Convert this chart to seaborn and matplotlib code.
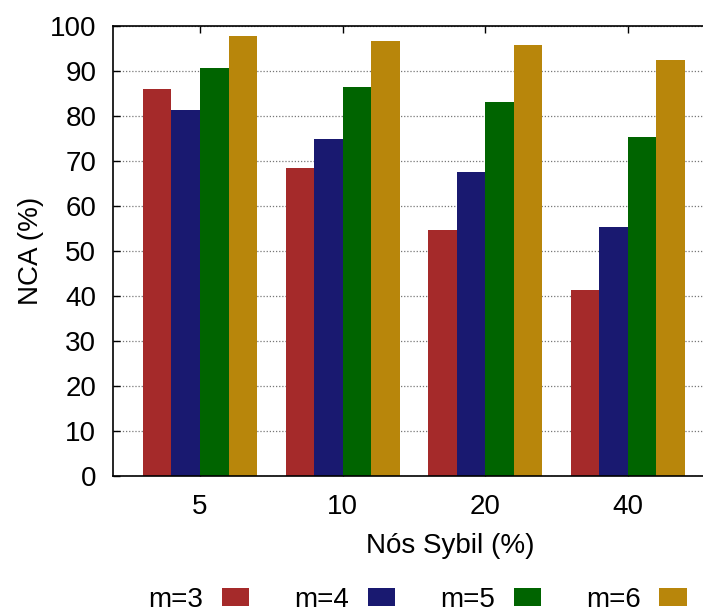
import pandas as pd
import matplotlib
matplotlib.use("Agg")
import matplotlib.pyplot as plt
import seaborn as sns
from matplotlib.patches import Patch

# Data
sybil = ["5", "10", "20", "40"]
m_labels = ["m=3", "m=4", "m=5", "m=6"]
m3 = [85.9, 68.4, 54.7, 41.3]
m4 = [81.3, 74.9, 67.6, 55.3]
m5 = [90.7, 86.4, 83.1, 75.4]
m6 = [97.8, 96.7, 95.8, 92.4]
colors = ["#A52A2A", "#191970", "#006400", "#B8860B"]

rows = []
for lab, vals in zip(m_labels, [m3, m4, m5, m6]):
    for s, v in zip(sybil, vals):
        rows.append({"sybil": s, "m": lab, "nca": v})
df = pd.DataFrame(rows)

sns.set_style("white")
plt.rcParams["font.family"] = ["Liberation Sans", "DejaVu Sans"]
plt.rcParams["text.color"] = "black"
plt.rcParams["axes.labelcolor"] = "black"
plt.rcParams["xtick.color"] = "black"
plt.rcParams["ytick.color"] = "black"
fs = 20

fig = plt.figure(figsize=(7.03, 6.15), dpi=100)
ax = fig.add_axes([113 / 703, 1 - 476 / 615, 1 - 113 / 703, 450 / 615])

sns.barplot(data=df, x="sybil", y="nca", hue="m", order=sybil, hue_order=m_labels,
            palette=colors, errorbar=None, width=0.8, saturation=1,
            edgecolor="none", legend=False, ax=ax, zorder=2)

ax.set_xlim(-0.61, 3.526)
ax.set_ylim(0, 100)
ax.set_yticks(range(0, 101, 10))
ax.grid(axis="y", linestyle=(0, (1, 1.5)), color="#777777", linewidth=0.9, zorder=0)
ax.grid(axis="x", visible=False)
ax.set_axisbelow(True)

for side in ["left", "bottom", "top"]:
    ax.spines[side].set_color("black")
    ax.spines[side].set_linewidth(1.2)
ax.spines["right"].set_visible(False)

ax.tick_params(axis="y", direction="in", length=5, width=1, pad=12, labelsize=fs, left=True)
ax.tick_params(axis="x", direction="in", length=5, width=1, pad=13, labelsize=fs,
               bottom=True, top=True)

ax.set_xlabel("Nós Sybil (%)", fontsize=fs)
ax.set_ylabel("NCA (%)", fontsize=fs)
ax.xaxis.set_label_coords(0.571, -0.127)
ax.yaxis.set_label_coords(-0.117, 0.5)

handles = [Patch(facecolor=c, edgecolor="none") for c in colors]
fig.legend(handles, m_labels, loc="center", bbox_to_anchor=(0.594, 0.024), ncol=4,
           markerfirst=False, frameon=False, fontsize=fs, handlelength=1.0,
           handleheight=0.62, handletextpad=0.68, columnspacing=1.6,
           borderpad=0.1, borderaxespad=0)

fig.savefig("out.png", dpi=100)
